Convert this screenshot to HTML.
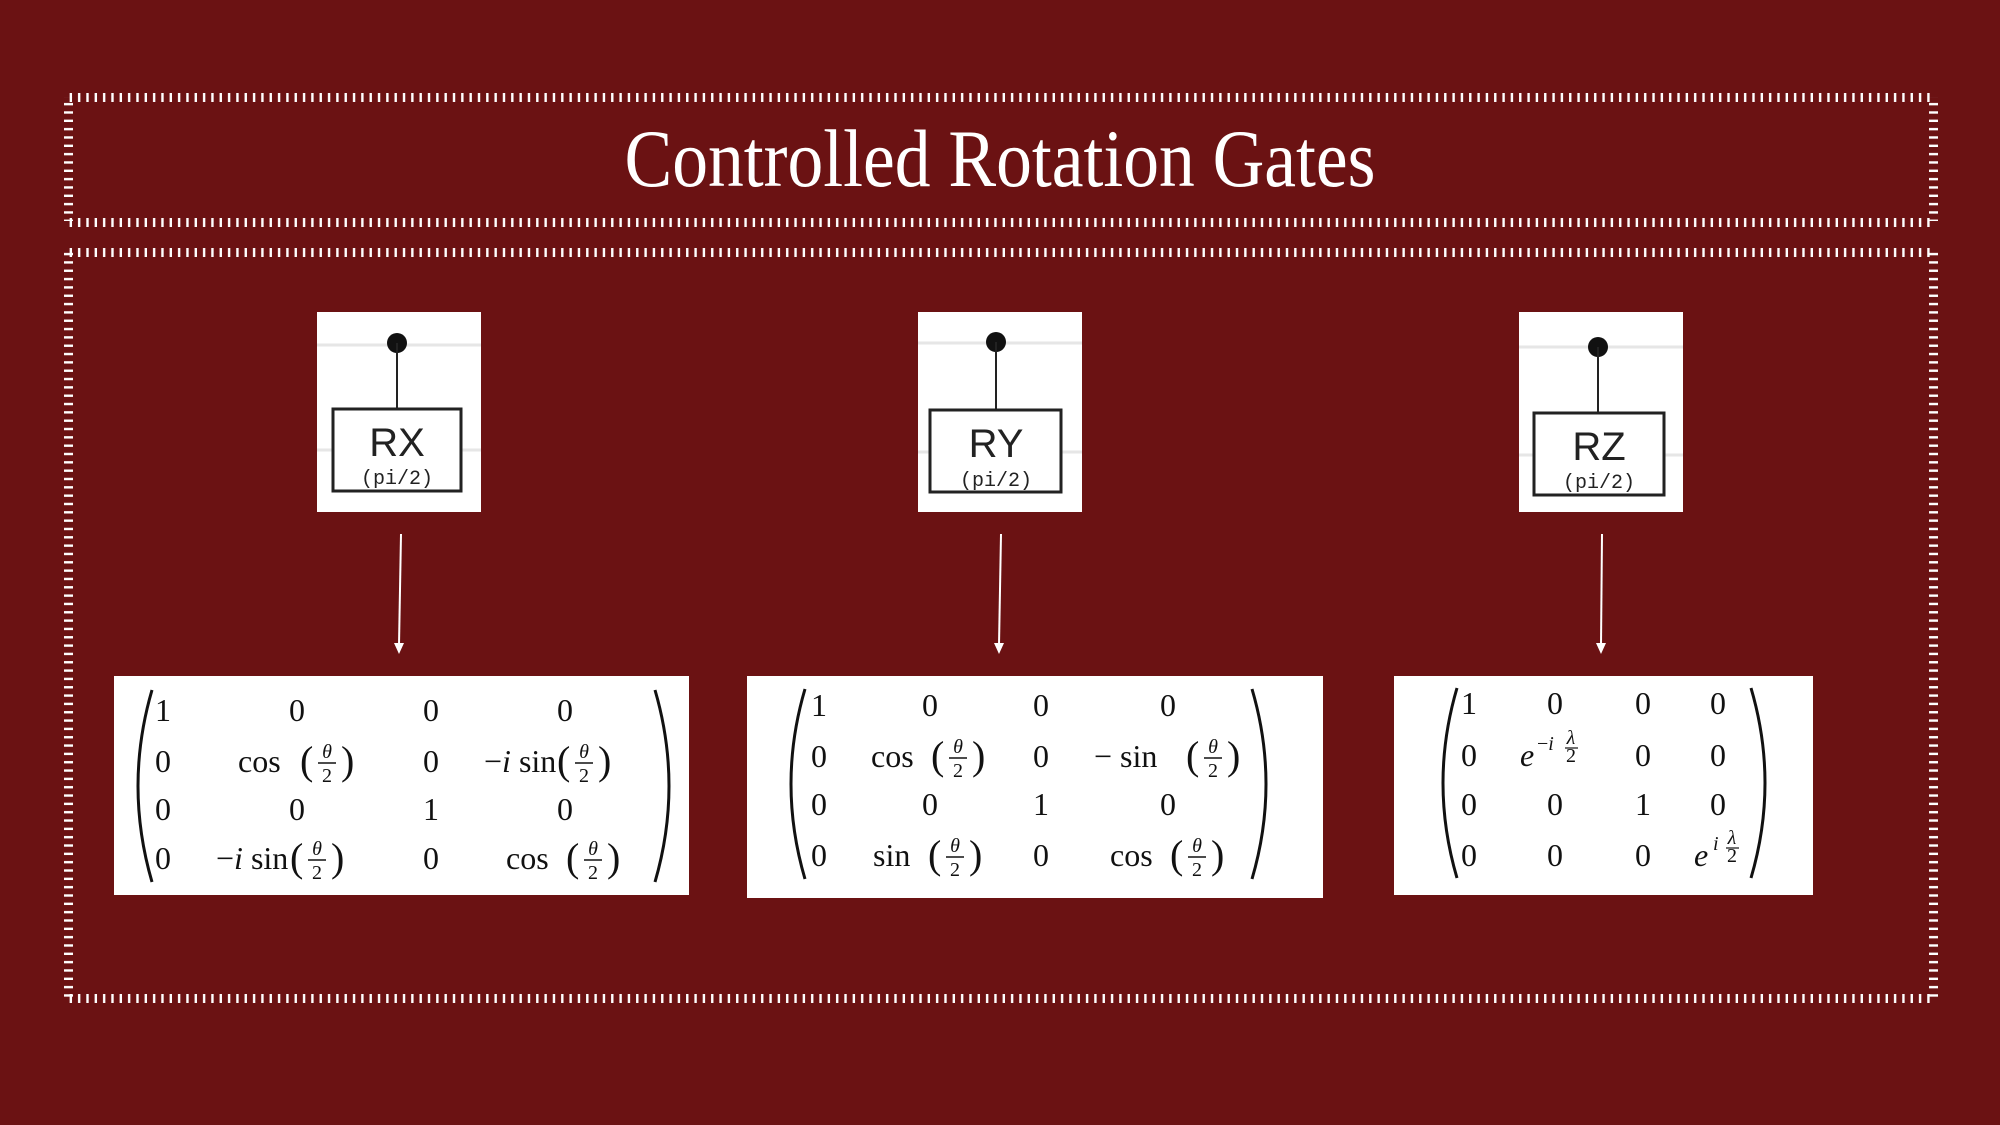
<!DOCTYPE html>
<html><head><meta charset="utf-8"><style>
html,body{margin:0;padding:0;background:#6b1213;}
svg{display:block}
.m{font-family:"Liberation Serif",serif;font-size:32px;fill:#111}
.f{font-family:"Liberation Serif",serif;font-size:20px;fill:#111}
.it{font-style:italic}
.p{font-family:"Liberation Serif",serif;font-size:40px;fill:#111}
</style></head><body>
<svg width="2000" height="1125" viewBox="0 0 2000 1125" xmlns="http://www.w3.org/2000/svg">
<defs>
<pattern id="hx" width="8.33" height="10" patternUnits="userSpaceOnUse"><rect x="3" y="0" width="2.4" height="10" fill="#fff"/></pattern>
<pattern id="vy" width="10" height="8.33" patternUnits="userSpaceOnUse"><rect x="0" y="3" width="10" height="2.4" fill="#fff"/></pattern>
</defs>
<rect width="2000" height="1125" fill="#6b1213"/>
<g>
<rect x="68" y="93" width="1866" height="9" fill="url(#hx)"/>
<rect x="68" y="218" width="1866" height="9" fill="url(#hx)"/>
<rect x="64" y="97" width="9" height="124" fill="url(#vy)"/>
<rect x="1929" y="97" width="9" height="124" fill="url(#vy)"/>
</g>
<g>
<rect x="68" y="248" width="1866" height="9" fill="url(#hx)"/>
<rect x="68" y="994" width="1866" height="9" fill="url(#hx)"/>
<rect x="64" y="252" width="9" height="746" fill="url(#vy)"/>
<rect x="1929" y="252" width="9" height="746" fill="url(#vy)"/>
</g>
<text x="1000" y="186" text-anchor="middle" textLength="751" lengthAdjust="spacingAndGlyphs" font-family="Liberation Serif, serif" font-size="82" fill="#fff">Controlled Rotation Gates</text>

<!-- gates -->
<g>
<rect x="317" y="312" width="164" height="200" fill="#fff"/>
<line x1="317" y1="345" x2="481" y2="345" stroke="#e6e6e6" stroke-width="3"/>
<line x1="317" y1="450" x2="481" y2="450" stroke="#e6e6e6" stroke-width="3"/>
<circle cx="397" cy="343" r="10" fill="#111"/>
<line x1="397" y1="343" x2="397" y2="409" stroke="#222" stroke-width="2"/>
<rect x="333" y="409" width="128" height="82" fill="#fff" stroke="#222" stroke-width="3"/>
<text x="397" y="456" text-anchor="middle" font-family="Liberation Sans, sans-serif" font-size="40" fill="#222">RX</text>
<text x="397" y="484" text-anchor="middle" font-family="Liberation Mono, monospace" font-size="20" fill="#222">(pi/2)</text>
</g>
<g>
<rect x="918" y="312" width="164" height="200" fill="#fff"/>
<line x1="918" y1="343" x2="1082" y2="343" stroke="#e6e6e6" stroke-width="3"/>
<line x1="918" y1="452" x2="1082" y2="452" stroke="#e6e6e6" stroke-width="3"/>
<circle cx="996" cy="342" r="10" fill="#111"/>
<line x1="996" y1="342" x2="996" y2="410" stroke="#222" stroke-width="2"/>
<rect x="930" y="410" width="131" height="82" fill="#fff" stroke="#222" stroke-width="3"/>
<text x="996" y="457" text-anchor="middle" font-family="Liberation Sans, sans-serif" font-size="40" fill="#222">RY</text>
<text x="996" y="486" text-anchor="middle" font-family="Liberation Mono, monospace" font-size="20" fill="#222">(pi/2)</text>
</g>
<g>
<rect x="1519" y="312" width="164" height="200" fill="#fff"/>
<line x1="1519" y1="347" x2="1683" y2="347" stroke="#e6e6e6" stroke-width="3"/>
<line x1="1519" y1="455" x2="1683" y2="455" stroke="#e6e6e6" stroke-width="3"/>
<circle cx="1598" cy="347" r="10" fill="#111"/>
<line x1="1598" y1="347" x2="1598" y2="413" stroke="#222" stroke-width="2"/>
<rect x="1534" y="413" width="130" height="82" fill="#fff" stroke="#222" stroke-width="3"/>
<text x="1599" y="460" text-anchor="middle" font-family="Liberation Sans, sans-serif" font-size="40" fill="#222">RZ</text>
<text x="1599" y="488" text-anchor="middle" font-family="Liberation Mono, monospace" font-size="20" fill="#222">(pi/2)</text>
</g>

<!-- arrows -->
<g stroke="#fff" stroke-width="2" fill="#fff">
<line x1="401" y1="534" x2="399" y2="645"/><path d="M394 643 L399 654 L404 643Z" stroke="none"/>
<line x1="1001" y1="534" x2="999" y2="645"/><path d="M994 643 L999 654 L1004 643Z" stroke="none"/>
<line x1="1602" y1="534" x2="1601" y2="645"/><path d="M1596 643 L1601 654 L1606 643Z" stroke="none"/>
</g>

<!-- RX matrix -->
<g>
<rect x="114" y="676" width="575" height="219" fill="#fff"/>
<path d="M152 690 Q124 786 152 882" fill="none" stroke="#111" stroke-width="3"/>
<path d="M655 690 Q683 786 655 882" fill="none" stroke="#111" stroke-width="3"/>
<g class="m" text-anchor="middle">
<text x="163" y="721">1</text><text x="297" y="721">0</text><text x="431" y="721">0</text><text x="565" y="721">0</text>
<text x="163" y="772">0</text><text x="431" y="772">0</text>
<text x="163" y="820">0</text><text x="297" y="820">0</text><text x="431" y="820">1</text><text x="565" y="820">0</text>
<text x="163" y="869">0</text><text x="431" y="869">0</text>
</g>
<text class="m" x="238" y="772">cos</text>
<text class="p" x="300" y="774">(</text><text class="f it" x="327" y="758" text-anchor="middle">θ</text><line x1="318" y1="763" x2="336" y2="763" stroke="#111" stroke-width="1.5"/><text class="f" x="327" y="782" text-anchor="middle">2</text><text class="p" x="341" y="774">)</text>
<text class="m" x="484" y="772">−<tspan class="it">i</tspan> sin</text>
<text class="p" x="557" y="774">(</text><text class="f it" x="584" y="758" text-anchor="middle">θ</text><line x1="575" y1="763" x2="593" y2="763" stroke="#111" stroke-width="1.5"/><text class="f" x="584" y="782" text-anchor="middle">2</text><text class="p" x="598" y="774">)</text>
<text class="m" x="216" y="869">−<tspan class="it">i</tspan> sin</text>
<text class="p" x="290" y="871">(</text><text class="f it" x="317" y="855" text-anchor="middle">θ</text><line x1="308" y1="860" x2="326" y2="860" stroke="#111" stroke-width="1.5"/><text class="f" x="317" y="879" text-anchor="middle">2</text><text class="p" x="331" y="871">)</text>
<text class="m" x="506" y="869">cos</text>
<text class="p" x="566" y="871">(</text><text class="f it" x="593" y="855" text-anchor="middle">θ</text><line x1="584" y1="860" x2="602" y2="860" stroke="#111" stroke-width="1.5"/><text class="f" x="593" y="879" text-anchor="middle">2</text><text class="p" x="607" y="871">)</text>
</g>

<!-- RY matrix -->
<g>
<rect x="747" y="676" width="576" height="222" fill="#fff"/>
<path d="M805 689 Q777 784 805 879" fill="none" stroke="#111" stroke-width="3"/>
<path d="M1252 689 Q1280 784 1252 879" fill="none" stroke="#111" stroke-width="3"/>
<g class="m" text-anchor="middle">
<text x="819" y="716">1</text><text x="930" y="716">0</text><text x="1041" y="716">0</text><text x="1168" y="716">0</text>
<text x="819" y="767">0</text><text x="1041" y="767">0</text>
<text x="819" y="815">0</text><text x="930" y="815">0</text><text x="1041" y="815">1</text><text x="1168" y="815">0</text>
<text x="819" y="866">0</text><text x="1041" y="866">0</text>
</g>
<text class="m" x="871" y="767">cos</text>
<text class="p" x="931" y="769">(</text><text class="f it" x="958" y="753" text-anchor="middle">θ</text><line x1="949" y1="758" x2="967" y2="758" stroke="#111" stroke-width="1.5"/><text class="f" x="958" y="777" text-anchor="middle">2</text><text class="p" x="972" y="769">)</text>
<text class="m" x="1094" y="767">− sin</text>
<text class="p" x="1186" y="769">(</text><text class="f it" x="1213" y="753" text-anchor="middle">θ</text><line x1="1204" y1="758" x2="1222" y2="758" stroke="#111" stroke-width="1.5"/><text class="f" x="1213" y="777" text-anchor="middle">2</text><text class="p" x="1227" y="769">)</text>
<text class="m" x="873" y="866">sin</text>
<text class="p" x="928" y="868">(</text><text class="f it" x="955" y="852" text-anchor="middle">θ</text><line x1="946" y1="857" x2="964" y2="857" stroke="#111" stroke-width="1.5"/><text class="f" x="955" y="876" text-anchor="middle">2</text><text class="p" x="969" y="868">)</text>
<text class="m" x="1110" y="866">cos</text>
<text class="p" x="1170" y="868">(</text><text class="f it" x="1197" y="852" text-anchor="middle">θ</text><line x1="1188" y1="857" x2="1206" y2="857" stroke="#111" stroke-width="1.5"/><text class="f" x="1197" y="876" text-anchor="middle">2</text><text class="p" x="1211" y="868">)</text>
</g>

<!-- RZ matrix -->
<g>
<rect x="1394" y="676" width="419" height="219" fill="#fff"/>
<path d="M1457 688 Q1429 783 1457 878" fill="none" stroke="#111" stroke-width="3"/>
<path d="M1751 688 Q1779 783 1751 878" fill="none" stroke="#111" stroke-width="3"/>
<g class="m" text-anchor="middle">
<text x="1469" y="714">1</text><text x="1555" y="714">0</text><text x="1643" y="714">0</text><text x="1718" y="714">0</text>
<text x="1469" y="766">0</text><text x="1643" y="766">0</text><text x="1718" y="766">0</text>
<text x="1469" y="815">0</text><text x="1555" y="815">0</text><text x="1643" y="815">1</text><text x="1718" y="815">0</text>
<text x="1469" y="866">0</text><text x="1555" y="866">0</text><text x="1643" y="866">0</text>
</g>
<text class="m it" x="1520" y="766">e</text>
<text class="f" x="1537" y="750">−<tspan class="it">i</tspan></text>
<text class="f it" x="1571" y="744" text-anchor="middle" font-size="15">λ</text><line x1="1565" y1="748" x2="1578" y2="748" stroke="#111" stroke-width="1.2"/><text class="f" x="1571" y="762" text-anchor="middle" font-size="15">2</text>
<text class="m it" x="1694" y="866">e</text>
<text class="f it" x="1713" y="850">i</text>
<text class="f it" x="1732" y="844" text-anchor="middle" font-size="15">λ</text><line x1="1726" y1="848" x2="1739" y2="848" stroke="#111" stroke-width="1.2"/><text class="f" x="1732" y="862" text-anchor="middle" font-size="15">2</text>
</g>
</svg>
</body></html>
